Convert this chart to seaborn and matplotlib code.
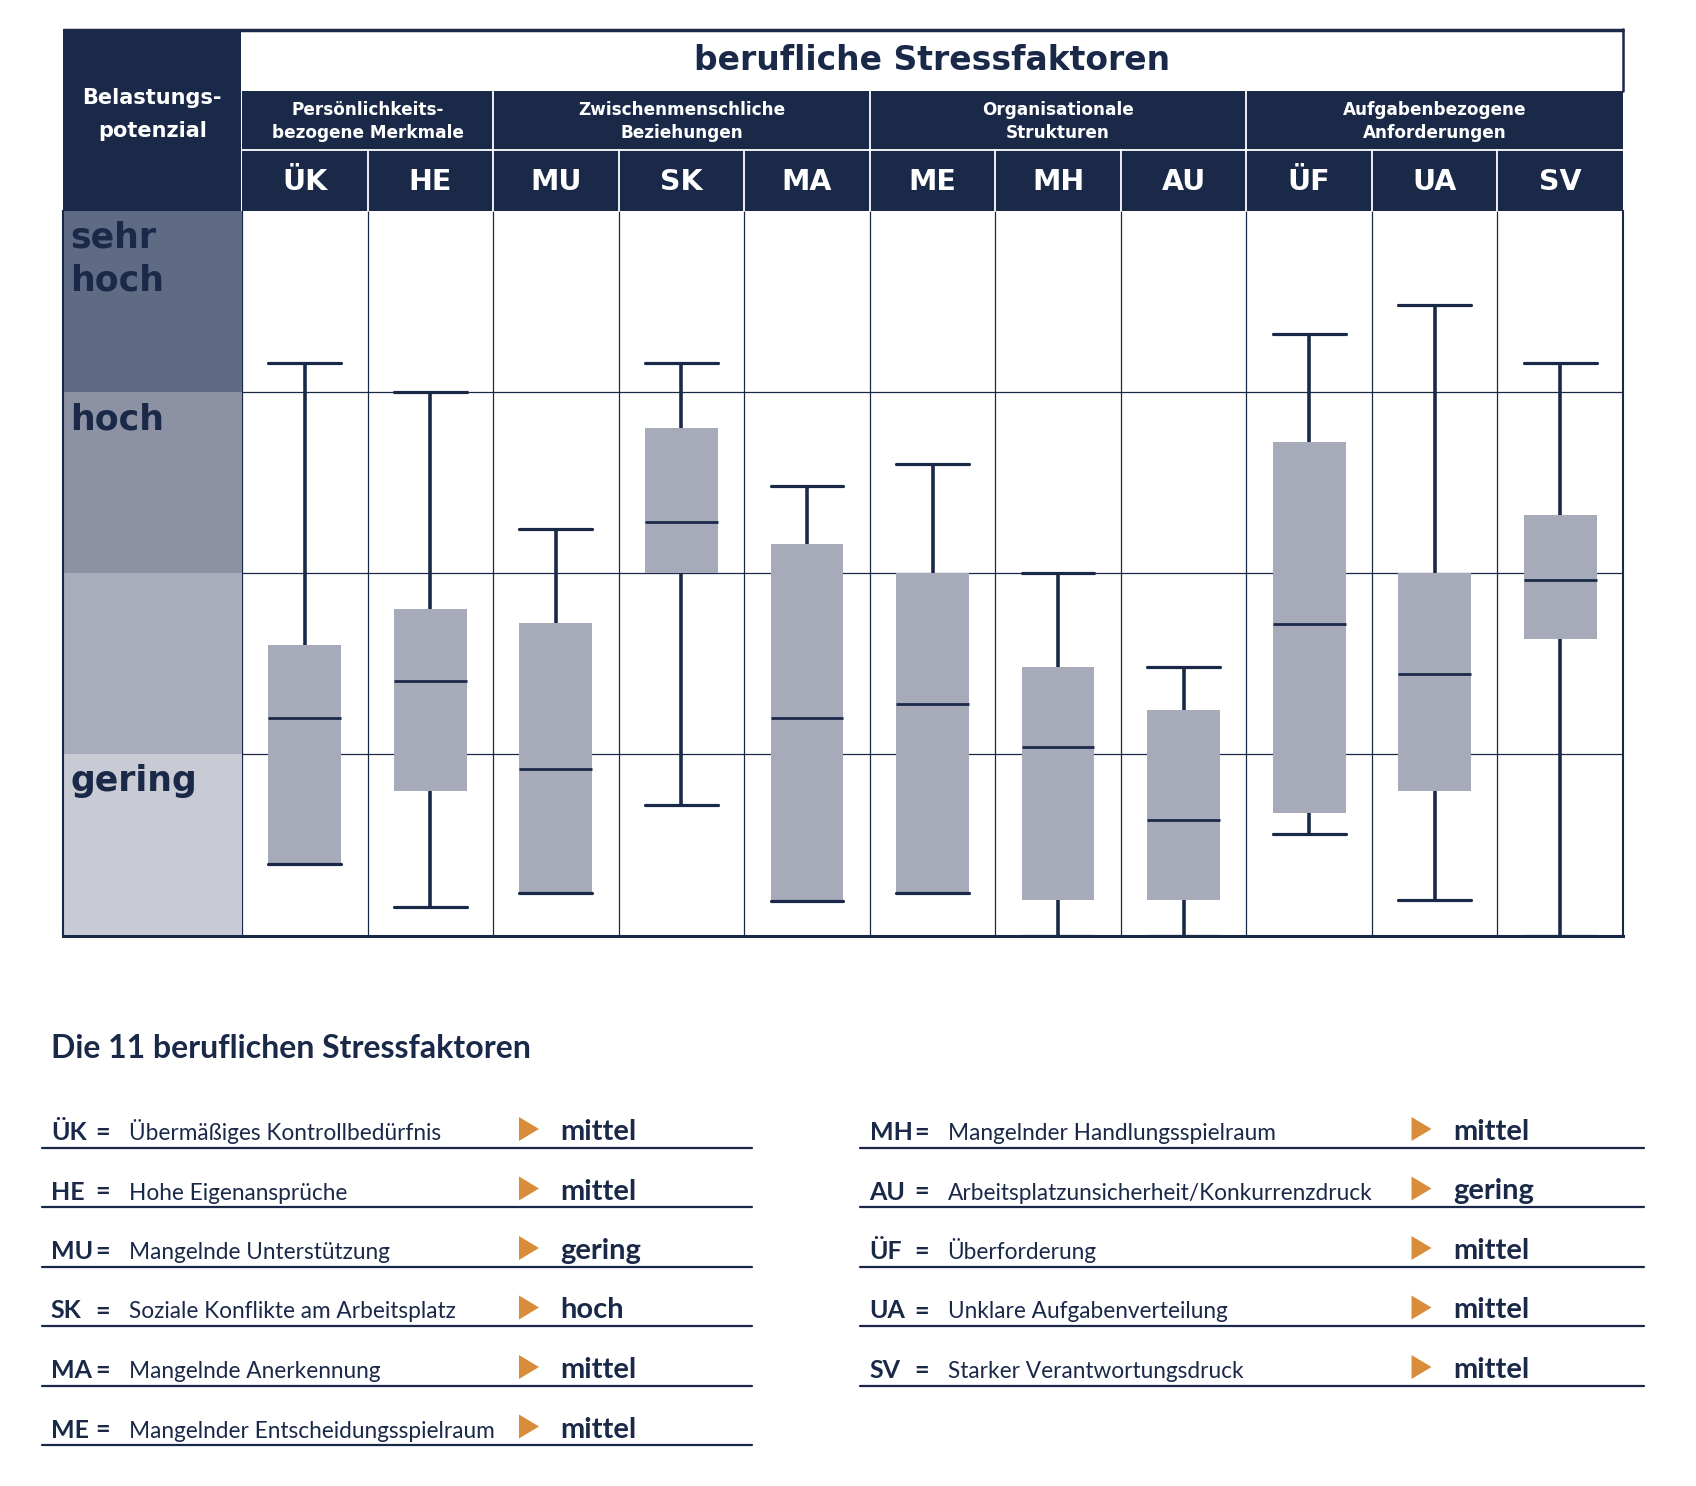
import numpy as np
import pandas as pd
import seaborn as sns
import matplotlib
matplotlib.use("Agg")
import matplotlib.pyplot as plt
from matplotlib.patches import Rectangle, Polygon
from matplotlib import font_manager as fm

# ---------------- data ----------------
factors = ["ÜK", "HE", "MU", "SK", "MA", "ME", "MH", "AU", "ÜF", "UA", "SV"]
whisker_low = [0.394, 0.158, 0.233, 0.719, 0.193, 0.233, 0.0, 0.0, 0.561, 0.198, 0.0]
q1 = [0.394, 0.798, 0.233, 2.0, 0.193, 0.233, 0.196, 0.196, 0.677, 0.798, 1.639]
median = [1.199, 1.404, 0.922, 2.281, 1.199, 1.280, 1.038, 0.640, 1.720, 1.441, 1.962]
q3 = [1.604, 1.801, 1.725, 2.802, 2.162, 2.0, 1.483, 1.243, 2.725, 2.0, 2.323]
whisker_high = [3.161, 3.0, 2.244, 3.161, 2.481, 2.602, 2.0, 1.483, 3.321, 3.482, 3.161]

groups = ["Persönlichkeits-\nbezogene Merkmale", "Zwischenmenschliche\nBeziehungen",
          "Organisationale\nStrukturen", "Aufgabenbezogene\nAnforderungen"]
group_sizes = [2, 3, 3, 3]

band_labels = ["gering", "", "hoch", "sehr\nhoch"]
band_colors = ["#c9cbd4", "#a9acbb", "#8c91a4", "#5f6a85"]

title = "berufliche Stressfaktoren"
row_header = "Belastungs-\npotenzial"
legend_title = "Die 11 beruflichen Stressfaktoren"
legend_left = [("ÜK", "Übermäßiges Kontrollbedürfnis", "mittel"),
               ("HE", "Hohe Eigenansprüche", "mittel"),
               ("MU", "Mangelnde Unterstützung", "gering"),
               ("SK", "Soziale Konflikte am Arbeitsplatz", "hoch"),
               ("MA", "Mangelnde Anerkennung", "mittel"),
               ("ME", "Mangelnder Entscheidungsspielraum", "mittel")]
legend_right = [("MH", "Mangelnder Handlungsspielraum", "mittel"),
                ("AU", "Arbeitsplatzunsicherheit/Konkurrenzdruck", "gering"),
                ("ÜF", "Überforderung", "mittel"),
                ("UA", "Unklare Aufgabenverteilung", "mittel"),
                ("SV", "Starker Verantwortungsdruck", "mittel")]

# ---------------- style ----------------
NAVY = "#1b2949"
BOX = "#a7aab9"
ORANGE = "#d98c3a"
W, H = 1696, 1486

sns.set_theme(style="white")
plt.rcParams["font.family"] = ["DejaVu Sans"]
names = {f.name for f in fm.fontManager.ttflist}
LEG_FONT = next((n for n in ["Liberation Sans Narrow", "Lato", "Open Sans"] if n in names), "DejaVu Sans")
LF = [LEG_FONT, "DejaVu Sans"]

fig = plt.figure(figsize=(W / 100, H / 100), dpi=100)
fig.patch.set_facecolor("white")


def fx(px):
    return px / W


def fy(py):
    return 1 - py / H


X0, X1, X2 = 62.5, 242.0, 1623.0
Y0, Y1, Y2, Y3, Y4 = 29.0, 91.0, 150.0, 211.0, 935.5
colw = (X2 - X1) / len(factors)

# ---------------- box plot ----------------
ax = fig.add_axes([fx(X1), fy(Y4), fx(X2) - fx(X1), fy(Y3) - fy(Y4)])
rows = []
for f, lo, a, m, b, hi in zip(factors, whisker_low, q1, median, q3, whisker_high):
    for v in (lo, a, m, b, hi):
        rows.append({"Faktor": f, "Belastung": v})
df = pd.DataFrame(rows)

sns.boxplot(data=df, x="Faktor", y="Belastung", order=factors, ax=ax,
            color=BOX, saturation=1, width=0.58, whis=(0, 100), showfliers=False,
            linecolor=NAVY, linewidth=2.5,
            boxprops=dict(edgecolor=BOX, linewidth=0),
            whiskerprops=dict(linewidth=2.6, color=NAVY),
            capprops=dict(linewidth=2.3, color=NAVY),
            medianprops=dict(linewidth=2.0, color=NAVY),
            capwidths=0.58)
ax.set_xlim(-0.5, len(factors) - 0.5)
ax.set_ylim(0, 4)
ax.set_xticks([])
ax.set_yticks([])
ax.set_xlabel("")
ax.set_ylabel("")
for x in np.arange(0.5, len(factors) - 0.5):
    ax.axvline(x, color=NAVY, lw=0.9, zorder=0.5)
for y in (1, 2, 3):
    ax.axhline(y, color=NAVY, lw=0.9, zorder=0.5)
ax.spines["top"].set_visible(False)
ax.spines["bottom"].set_color(NAVY)
ax.spines["bottom"].set_linewidth(2.2)
ax.spines["right"].set_color(NAVY)
ax.spines["right"].set_linewidth(1.5)
ax.spines["left"].set_color(NAVY)
ax.spines["left"].set_linewidth(0.9)

# ---------------- left level column ----------------
axl = fig.add_axes([fx(X0), fy(Y4), fx(X1) - fx(X0), fy(Y3) - fy(Y4)])
axl.set_xlim(0, 1)
axl.set_ylim(0, 4)
for i, (c, lab) in enumerate(zip(band_colors, band_labels)):
    axl.axhspan(i, i + 1, color=c, lw=0)
    if lab:
        axl.text(0.045, i + 1 - 0.055, lab, va="top", ha="left", fontsize=25,
                 fontweight="bold", color=NAVY, linespacing=1.3)
axl.set_xticks([])
axl.set_yticks([])
for s in ["top", "right"]:
    axl.spines[s].set_visible(False)
axl.spines["left"].set_color(NAVY)
axl.spines["left"].set_linewidth(1.5)
axl.spines["bottom"].set_color(NAVY)
axl.spines["bottom"].set_linewidth(2.2)

# ---------------- overlay: header and legend ----------------
ov = fig.add_axes([0, 0, 1, 1])
ov.set_xlim(0, W)
ov.set_ylim(H, 0)
ov.axis("off")
ov.patch.set_alpha(0)

# left header cell
ov.add_patch(Rectangle((X0, Y0), X1 - X0 - 1.5, Y3 - Y0, color=NAVY, lw=0))
ov.text((X0 + X1) / 2, 114.5, row_header, ha="center", va="center",
        color="white", fontsize=15, fontweight="bold", linespacing=1.85)
# group + column header block
ov.add_patch(Rectangle((X1, Y1), X2 - X1, Y3 - Y1, color=NAVY, lw=0))
ov.plot([X1, X2], [Y2, Y2], color="white", lw=1.3)
for i in range(1, len(factors)):
    ov.plot([X1 + i * colw] * 2, [Y2, Y3], color="white", lw=1.3)
start = 0
for g, n in zip(groups, group_sizes):
    xl = X1 + start * colw
    xr = X1 + (start + n) * colw
    if start > 0:
        ov.plot([xl, xl], [Y1, Y2], color="white", lw=1.3)
    ov.text((xl + xr) / 2, (Y1 + Y2) / 2 + 1, g, ha="center", va="center", color="white",
            fontsize=12.2, fontweight="bold", linespacing=1.3)
    start += n
for i, f in enumerate(factors):
    ov.text(X1 + (i + 0.5) * colw, (Y2 + Y3) / 2 + 1, f, ha="center", va="center",
            color="white", fontsize=20.5, fontweight="bold")
# title row
ov.plot([X0, X2 + 1], [Y0 + 1, Y0 + 1], color=NAVY, lw=2.5, solid_capstyle="butt")
ov.plot([X2, X2], [Y0, Y1], color=NAVY, lw=1.8)
ov.text((X1 + X2) / 2, (Y0 + Y1) / 2 + 1, title, ha="center", va="center", color=NAVY,
        fontsize=23.8, fontweight="bold")

# legend
ov.text(51, 1049, legend_title, ha="left", va="center", color=NAVY, fontsize=23,
        fontweight="bold", family=LF)


def legend_column(items, x_abbr, x_eq, x_desc, x_arrow, x_level, x_line0, x_line1):
    for i, (ab, desc, lvl) in enumerate(items):
        yb = 1140 + 59.5 * i
        ov.text(x_abbr, yb, ab, ha="left", va="baseline", color=NAVY, fontsize=18,
                fontweight="bold", family=LF)
        ov.text(x_eq, yb, "=", ha="left", va="baseline", color=NAVY, fontsize=18,
                fontweight="bold", family=LF)
        ov.text(x_desc, yb, desc, ha="left", va="baseline", color=NAVY, fontsize=16.3,
                fontweight="normal", family=LF)
        yc = 1129 + 59.5 * i
        ov.add_patch(Polygon([[x_arrow, yc - 12], [x_arrow + 20, yc], [x_arrow, yc + 12]],
                             closed=True, color=ORANGE, lw=0))
        ov.text(x_level, yb, lvl, ha="left", va="baseline", color=NAVY, fontsize=21,
                fontweight="bold", family=LF)
        ov.plot([x_line0, x_line1], [yb + 7.5, yb + 7.5], color=NAVY, lw=1.6)


legend_column(legend_left, 50.8, 95, 128.7, 519, 560.3, 42, 752)
legend_column(legend_right, 869.6, 914, 947.5, 1411.5, 1453.7, 860, 1644)

fig.savefig("out.png", dpi=100, facecolor="white")
